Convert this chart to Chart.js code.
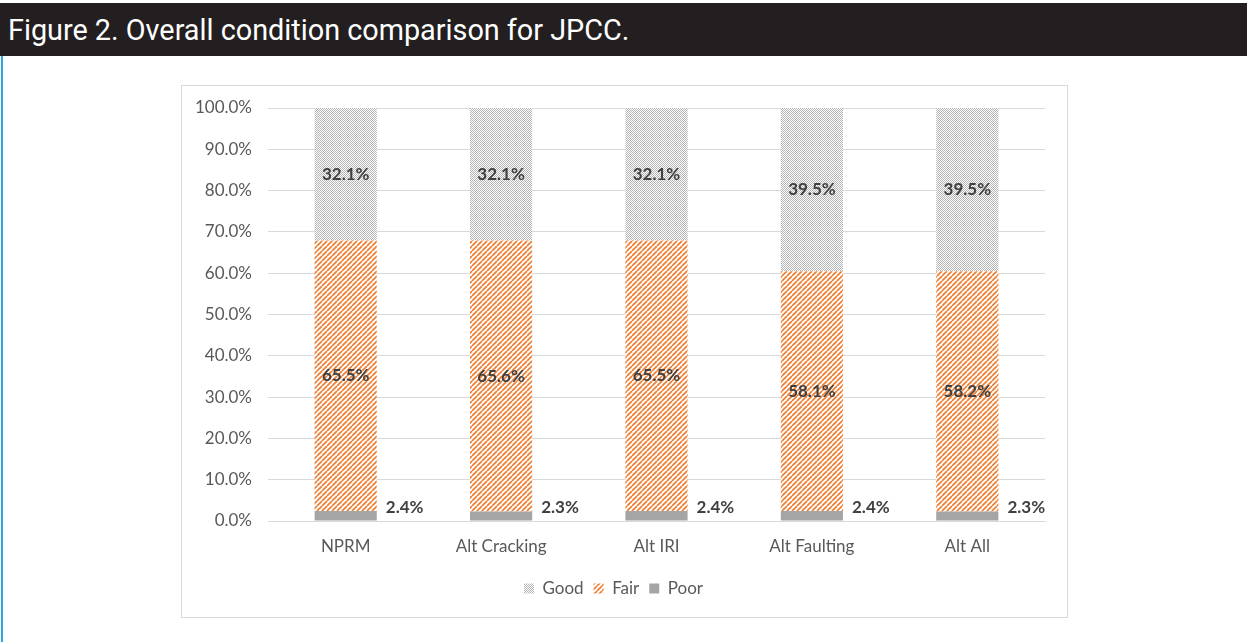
<!DOCTYPE html>
<html>
<head>
<meta charset="utf-8">
<script src="https://cdn.jsdelivr.net/npm/chart.js@4"></script>
<style>
  body { margin: 0; background: #fff; width: 1247px; height: 642px; position: relative; overflow: hidden; }
  #judul { position: absolute; left: 0; top: 3px; width: 1247px; height: 53px; background: #231f20;
           color: #fff; font-family: Roboto, sans-serif; font-size: 28.8px; line-height: 54px; padding-left: 8px; box-sizing: border-box; }
  #garis { position: absolute; left: 1px; top: 56px; width: 2px; height: 586px; background: #29a8e0; }
  #kotak { position: absolute; left: 181px; top: 85px; width: 887px; height: 533px; border: 1px solid #d9d9d9; box-sizing: border-box; }
</style>
</head>
<body>
<div id="judul">Figure 2. Overall condition comparison for JPCC.</div>
<div id="garis"></div>
<div id="kotak"><canvas id="grafik"></canvas></div>
<script>
  var kategori = ["NPRM", "Alt Cracking", "Alt IRI", "Alt Faulting", "Alt All"];
  var good = [32.1, 32.1, 32.1, 39.5, 39.5];
  var fair = [65.5, 65.6, 65.5, 58.1, 58.2];
  var poor = [2.4, 2.3, 2.4, 2.4, 2.3];

  function polaTitik() {
    var c = document.createElement("canvas");
    c.width = 4; c.height = 4;
    var g = c.getContext("2d");
    g.fillStyle = "#fff";
    g.fillRect(0, 0, 4, 4);
    g.fillStyle = "#b4b4b4";
    for (var x = 0; x < 4; x++) {
      for (var y = 0; y < 4; y++) {
        if ((x + y) % 2 === 0) g.fillRect(x, y, 1, 1);
      }
    }
    return g.createPattern(c, "repeat");
  }

  function polaGaris() {
    var n = 5;
    var c = document.createElement("canvas");
    c.width = n; c.height = n;
    var g = c.getContext("2d");
    g.fillStyle = "#fff";
    g.fillRect(0, 0, n, n);
    g.strokeStyle = "#ed7d31";
    g.lineWidth = 1.7;
    [-n, 0, n].forEach(function(o) {
      g.beginPath();
      g.moveTo(o, n);
      g.lineTo(o + n, 0);
      g.stroke();
    });
    return g.createPattern(c, "repeat");
  }

  var labelPlugin = {
    id: "labelNilai",
    afterDatasetsDraw: function(chart) {
      var ctx = chart.ctx;
      ctx.save();
      ctx.font = "bold 17px Lato";
      ctx.fillStyle = "#404040";
      ctx.textBaseline = "middle";
      chart.data.datasets.forEach(function(ds, i) {
        var meta = chart.getDatasetMeta(i);
        meta.data.forEach(function(bar, j) {
          var teks = ds.data[j].toFixed(1) + "%";
          if (ds.label === "Poor") {
            ctx.textAlign = "left";
            ctx.fillText(teks, bar.x + bar.width / 2 + 9, bar.y - 4);
          } else {
            ctx.textAlign = "center";
            ctx.fillText(teks, bar.x, (bar.y + bar.base) / 2);
          }
        });
      });
      ctx.restore();
    }
  };

  var ctx = document.getElementById("grafik").getContext("2d");

  new Chart(ctx, {
    type: "bar",
    data: {
      labels: kategori,
      datasets: [
        { label: "Poor", data: poor, backgroundColor: "#a5a5a5" },
        { label: "Fair", data: fair, backgroundColor: polaGaris() },
        { label: "Good", data: good, backgroundColor: polaTitik() }
      ]
    },
    options: {
      responsive: true,
      maintainAspectRatio: false,
      animation: false,
      layout: { padding: { left: 0, top: 22, right: 22, bottom: 10 } },
      datasets: { bar: { categoryPercentage: 1, barPercentage: 0.4 } },
      plugins: {
        tooltip: { enabled: false },
        legend: {
          position: "bottom",
          reverse: true,
          labels: {
            boxWidth: 10,
            boxHeight: 10,
            padding: 10,
            color: "#595959",
            font: { family: "Lato", size: 17 }
          }
        }
      },
      scales: {
        x: {
          stacked: true,
          grid: { display: false, drawTicks: false },
          border: { color: "#d9d9d9" },
          ticks: { padding: 15, color: "#595959", font: { family: "Lato", size: 17 } },
          afterFit: function(s) { s.height = 49; s.paddingLeft = 0; s.paddingRight = 0; }
        },
        y: {
          stacked: true,
          min: 0,
          max: 100,
          grid: { color: "#d9d9d9", drawTicks: false },
          border: { display: false },
          ticks: {
            stepSize: 10,
            padding: 16,
            color: "#595959",
            font: { family: "Lato", size: 17 },
            callback: function(v) { return v.toFixed(1) + "%"; }
          },
          afterFit: function(s) { s.width = 86; s.paddingTop = 0; s.paddingBottom = 0; }
        }
      }
    },
    plugins: [labelPlugin]
  });
</script>
</body>
</html>
